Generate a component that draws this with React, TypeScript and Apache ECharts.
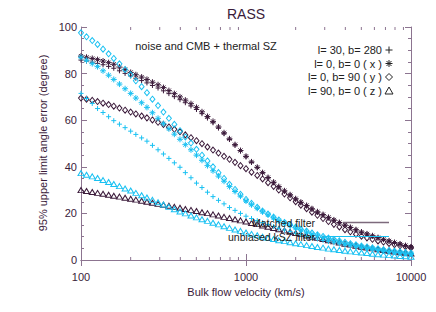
import React, { useEffect, useRef } from "react";
import * as echarts from "echarts";

// Bulk flow velocity (km/s), log-spaced sample points
const velocity = [
  100, 108, 117, 126, 136, 147, 158, 171, 185, 200, 215, 233, 251, 271, 293, 316, 341, 368, 398, 429,
  464, 501, 541, 584, 631, 681, 736, 794, 858, 926, 1000, 1080, 1170, 1260, 1360, 1470, 1580, 1710, 1850, 2000,
  2150, 2330, 2510, 2710, 2930, 3160, 3410, 3680, 3980, 4290, 4640, 5010, 5410, 5840, 6310, 6810, 7360, 7940, 8580, 9260,
  10000,
];

// Matched filter (dark)
const matchedPlus = [
  85.8, 85.4, 84.9, 84.4, 83.8, 83.1, 82.3, 81.2, 80.1, 79, 78, 77, 76, 74.9, 73.8, 72.6, 71.4, 70.1, 68.8, 67.5,
  66.1, 64.6, 62.8, 60.9, 58.9, 56.6, 54.2, 51.7, 49.3, 46.8, 44.3, 41.9, 39.6, 37.3, 35.2, 33.2, 31.3, 29.5, 27.8, 26.1,
  24.6, 23.2, 21.8, 20.5, 19.3, 18.1, 17, 15.9, 14.9, 13.9, 12.9, 11.9, 11.1, 10.3, 9.5, 8.8, 8.1, 7.4, 6.8, 6.1,
  5.5,
];
const matchedAsterisk = [
  87.5, 87, 86.5, 86, 85.4, 84.7, 84, 82.8, 81.7, 80.5, 79.5, 78.5, 77.5, 76.3, 75.2, 74, 72.7, 71.4, 70, 68.6,
  67.1, 65.5, 63.6, 61.6, 59.5, 57.1, 54.6, 52, 49.5, 47, 44.5, 42.1, 39.8, 37.5, 35.4, 33.4, 31.5, 29.7, 28, 26.3,
  24.8, 23.4, 22, 20.7, 19.5, 18.3, 17.2, 16.1, 15, 14, 13, 12, 11.2, 10.4, 9.6, 8.9, 8.2, 7.5, 6.9, 6.2,
  5.6,
];
const matchedDiamond = [
  69.5, 69, 68.5, 68, 67.3, 66.7, 66, 65.2, 64.3, 63.5, 62.7, 61.8, 61, 60.1, 59.1, 58.2, 57.1, 56.1, 55, 53.7,
  52.5, 51.2, 49.9, 48.5, 47.2, 45.9, 44.5, 43.2, 41.9, 40.5, 39.2, 37.7, 36.3, 34.8, 33.2, 31.6, 30, 28.3, 26.7, 25,
  23.5, 22, 20.5, 19.2, 17.8, 16.5, 15.3, 14.2, 13, 12.1, 11.1, 10.2, 9.5, 8.9, 8.2, 7.7, 7.1, 6.6, 6.1, 5.7,
  5.2,
];
const matchedTriangle = [
  30, 29.6, 29.2, 28.8, 28.4, 28, 27.6, 27.2, 26.7, 26.3, 25.9, 25.4, 25, 24.6, 24.1, 23.7, 23.3, 22.8, 22.4, 21.9,
  21.5, 21, 20.5, 20.1, 19.6, 19.1, 18.5, 18, 17.5, 17, 16.5, 15.9, 15.4, 14.8, 14.3, 13.7, 13.2, 12.7, 12.1, 11.6,
  11.1, 10.5, 10, 9.5, 9, 8.5, 8, 7.5, 7, 6.6, 6.1, 5.7, 5.3, 5, 4.6, 4.3, 3.9, 3.6, 3.3, 3.1,
  2.8,
];

// Unbiased kSZ filter (cyan)
const unbiasedPlus = [
  71.5, 69.3, 67.2, 65, 63.3, 61.5, 59.8, 58.3, 56.8, 55.3, 53.9, 52.4, 51, 49.2, 47.3, 45.5, 43.6, 41.7, 39.8, 37.5,
  35.3, 33, 31.1, 29.1, 27.2, 25.6, 24.1, 22.5, 21.3, 20, 18.8, 17.8, 16.9, 16, 15.2, 14.4, 13.6, 12.9, 12.2, 11.5,
  10.9, 10.2, 9.6, 9, 8.4, 7.9, 7.4, 6.9, 6.4, 6, 5.6, 5.2, 4.8, 4.4, 4.1, 3.8, 3.5, 3.2, 2.9, 2.7,
  2.4,
];
const unbiasedAsterisk = [
  87, 85.7, 84.3, 83, 81.2, 79.3, 77.5, 75.5, 73.5, 71.5, 69.5, 67.5, 65.5, 63.2, 60.8, 58.5, 56.3, 54, 51.8, 49.5,
  47.3, 45, 42.8, 40.5, 38.3, 36, 33.8, 31.5, 29.4, 27.4, 25.3, 23.7, 22.2, 20.7, 19.4, 18.1, 16.9, 15.8, 14.8, 13.8,
  12.9, 12, 11.2, 10.4, 9.7, 9, 8.4, 7.8, 7.2, 6.7, 6.2, 5.7, 5.3, 4.9, 4.5, 4.1, 3.8, 3.5, 3.2, 2.9,
  2.7,
];
const unbiasedDiamond = [
  97.5, 95.8, 94.2, 92.5, 90.5, 88.5, 86.5, 84.2, 81.8, 79.5, 76.9, 74.4, 71.8, 69, 66.3, 63.5, 60.8, 58.2, 55.5, 52.8,
  50.2, 47.5, 45, 42.5, 40, 37.5, 35, 32.5, 30.3, 28.2, 26, 24.3, 22.6, 21, 19.7, 18.4, 17.2, 16.1, 15.1, 14.1,
  13.2, 12.4, 11.6, 10.8, 10.1, 9.4, 8.8, 8.2, 7.6, 7, 6.5, 6, 5.6, 5.2, 4.8, 4.4, 4.1, 3.8, 3.5, 3.2,
  2.9,
];
const unbiasedTriangle = [
  37.3, 36.6, 35.9, 35.2, 34.3, 33.5, 32.6, 31.7, 30.7, 29.8, 28.8, 27.8, 26.8, 25.8, 24.8, 23.8, 22.8, 21.8, 20.8, 20,
  19.1, 18.3, 17.5, 16.8, 16, 15.3, 14.5, 13.8, 13.1, 12.5, 11.8, 11.2, 10.6, 10, 9.5, 9, 8.5, 8.1, 7.6, 7.2,
  6.8, 6.4, 6, 5.6, 5.3, 4.9, 4.6, 4.3, 4, 3.7, 3.5, 3.2, 3, 2.7, 2.5, 2.3, 2.1, 1.9, 1.7, 1.6,
  1.4,
];

const xMinorTicks = [200, 300, 400, 500, 600, 700, 800, 900, 2000, 3000, 4000, 5000, 6000, 7000, 8000, 9000];
const legendLabels = ["l= 30, b= 280", "l= 0, b= 0 ( x )", "l= 0, b= 90 ( y )", "l= 90, b= 0 ( z )"];
const titleText = "RASS";
const yTitle = "95% upper limit angle error (degree)";
const xTitle = "Bulk flow velocity (km/s)";
const noteText = "noise and CMB + thermal SZ";
const filterLabels = ["Matched filter", "unbiased kSZ filter"];

const DARK = "#3b1a3a";
const CYAN = "#19c1f2";
const AXIS = "#8c7490";
const TEXT = "#3a1b3a";
const FONT = "'Liberation Sans', Arial, Helvetica, sans-serif";

const PLUS = "path://M5,0L5,10M0,5L10,5";
const ASTER = "path://M5,0L5,10M0,5L10,5M1.6,1.6L8.4,8.4M1.6,8.4L8.4,1.6";

function pts(ys: number[]) {
  return velocity.map((v, i) => [v, ys[i]]);
}

function scatter(name: string, ys: number[], color: string, symbol: string, size: number | number[], hollow: boolean) {
  return {
    name,
    type: "scatter",
    data: pts(ys),
    symbol,
    symbolSize: size,
    itemStyle: {
      color: hollow ? "rgba(0,0,0,0)" : color,
      borderColor: color,
      borderWidth: 1,
      opacity: 1,
    },
    emphasis: { disabled: true },
    silent: true,
  };
}

export default function App() {
  const ref = useRef<HTMLDivElement>(null);
  useEffect(() => {
    if (!ref.current) return;
    const chart = echarts.init(ref.current, undefined, { renderer: "svg" });
    const lx = 389;
    const rows = [50, 63.5, 77, 90.5];
    const option: any = {
      animation: false,
      backgroundColor: "#ffffff",
      textStyle: { fontFamily: FONT },
      grid: { left: 81, right: 25, top: 27, bottom: 52 },
      xAxis: [
        {
          type: "log",
          logBase: 10,
          min: 100,
          max: 10000,
          splitNumber: 2,
          position: "bottom",
          name: xTitle,
          nameLocation: "middle",
          nameGap: 26,
          nameTextStyle: { color: TEXT, fontSize: 11, fontFamily: FONT },
          axisLine: { show: true, lineStyle: { color: AXIS, width: 1 } },
          axisTick: { show: true, inside: true, length: 6, lineStyle: { color: AXIS } },
          minorTick: { show: false },
          splitLine: { show: false },
          axisLabel: {
            color: TEXT,
            fontSize: 11,
            fontFamily: FONT,
            margin: 11,
            formatter: (v: number) => String(Math.round(v)),
          },
        },
        {
          type: "log",
          logBase: 10,
          min: 100,
          max: 10000,
          splitNumber: 2,
          position: "top",
          axisLine: { show: true, lineStyle: { color: AXIS, width: 1 } },
          axisTick: { show: true, inside: true, length: 6, lineStyle: { color: AXIS } },
          axisLabel: { show: false },
          splitLine: { show: false },
        },
      ],
      yAxis: [
        {
          type: "value",
          min: 0,
          max: 100,
          interval: 20,
          position: "left",
          axisLine: { show: true, lineStyle: { color: AXIS, width: 1 } },
          axisTick: { show: true, inside: true, length: 6, lineStyle: { color: AXIS } },
          minorTick: { show: true, splitNumber: 4, length: 3, lineStyle: { color: AXIS } },
          splitLine: { show: false },
          axisLabel: { color: TEXT, fontSize: 11, fontFamily: FONT, margin: 4 },
        },
        {
          type: "value",
          min: 0,
          max: 100,
          interval: 20,
          position: "right",
          axisLine: { show: true, lineStyle: { color: AXIS, width: 1 } },
          axisTick: { show: true, inside: true, length: 6, lineStyle: { color: AXIS } },
          minorTick: { show: true, splitNumber: 4, length: 3, lineStyle: { color: AXIS } },
          splitLine: { show: false },
          axisLabel: { show: false },
        },
      ],
      series: [
        {
          type: "custom",
          name: "minor ticks",
          xAxisIndex: 0,
          yAxisIndex: 0,
          silent: true,
          data: xMinorTicks.map((v) => [v, 0]),
          encode: { x: 0, y: 1 },
          renderItem: (_p: any, api: any) => {
            const v = api.value(0);
            const b = api.coord([v, 0]);
            const t = api.coord([v, 100]);
            return {
              type: "group",
              children: [
                { type: "line", shape: { x1: b[0], y1: b[1], x2: b[0], y2: b[1] - 3 }, style: { stroke: AXIS, lineWidth: 1 } },
                { type: "line", shape: { x1: t[0], y1: t[1], x2: t[0], y2: t[1] + 3 }, style: { stroke: AXIS, lineWidth: 1 } },
              ],
            };
          },
        },
        scatter("matched l=30,b=280", matchedPlus, DARK, PLUS, 5, false),
        scatter("matched x", matchedAsterisk, DARK, ASTER, 6, false),
        scatter("matched y", matchedDiamond, DARK, "diamond", [5, 6], true),
        scatter("matched z", matchedTriangle, DARK, "triangle", [6, 5], true),
        scatter("unbiased l=30,b=280", unbiasedPlus, CYAN, PLUS, 5, false),
        scatter("unbiased x", unbiasedAsterisk, CYAN, ASTER, 6, false),
        scatter("unbiased y", unbiasedDiamond, CYAN, "diamond", [5, 6], true),
        scatter("unbiased z", unbiasedTriangle, CYAN, "triangle", [6, 5], true),
      ],
      graphic: [
        {
          type: "text",
          x: 246,
          y: 14,
          style: { text: titleText, fill: TEXT, font: `14px ${FONT}`, textAlign: "center", textVerticalAlign: "middle" },
        },
        {
          type: "text",
          x: 43,
          y: 143,
          rotation: Math.PI / 2,
          style: { text: yTitle, fill: TEXT, font: `11px ${FONT}`, textAlign: "center", textVerticalAlign: "middle" },
        },
        {
          type: "text",
          x: 206,
          y: 45.5,
          style: { text: noteText, fill: "#222", font: `11px ${FONT}`, textAlign: "center", textVerticalAlign: "middle" },
        },
        ...legendLabels.map((t, i) => ({
          type: "text",
          x: 382,
          y: rows[i],
          style: { text: t, fill: "#222", font: `11px ${FONT}`, textAlign: "right", textVerticalAlign: "middle" },
        })),
        { type: "line", shape: { x1: lx - 3.5, y1: rows[0], x2: lx + 3.5, y2: rows[0] }, style: { stroke: "#222", lineWidth: 1 } },
        { type: "line", shape: { x1: lx, y1: rows[0] - 3.5, x2: lx, y2: rows[0] + 3.5 }, style: { stroke: "#222", lineWidth: 1 } },
        { type: "line", shape: { x1: lx - 3.5, y1: rows[1], x2: lx + 3.5, y2: rows[1] }, style: { stroke: "#222", lineWidth: 1 } },
        { type: "line", shape: { x1: lx, y1: rows[1] - 3.5, x2: lx, y2: rows[1] + 3.5 }, style: { stroke: "#222", lineWidth: 1 } },
        { type: "line", shape: { x1: lx - 2.5, y1: rows[1] - 2.5, x2: lx + 2.5, y2: rows[1] + 2.5 }, style: { stroke: "#222", lineWidth: 1 } },
        { type: "line", shape: { x1: lx - 2.5, y1: rows[1] + 2.5, x2: lx + 2.5, y2: rows[1] - 2.5 }, style: { stroke: "#222", lineWidth: 1 } },
        {
          type: "polygon",
          shape: { points: [[lx, rows[2] - 3.5], [lx + 3.5, rows[2]], [lx, rows[2] + 3.5], [lx - 3.5, rows[2]]] },
          style: { fill: "none", stroke: "#222", lineWidth: 1 },
        },
        {
          type: "polygon",
          shape: { points: [[lx - 4, rows[3] + 3.5], [lx, rows[3] - 3.5], [lx + 4, rows[3] + 3.5]] },
          style: { fill: "none", stroke: "#222", lineWidth: 1 },
        },
        {
          type: "text",
          x: 315,
          y: 222.5,
          z: 100,
          style: { text: filterLabels[0], fill: "#1a1a1a", font: `10.5px ${FONT}`, textAlign: "right", textVerticalAlign: "middle" },
        },
        { type: "line", z: 100, shape: { x1: 343, y1: 222.5, x2: 389, y2: 222.5 }, style: { stroke: "#7d6a7c", lineWidth: 1.5 } },
        {
          type: "text",
          x: 315,
          y: 236.5,
          z: 100,
          style: { text: filterLabels[1], fill: "#1a1a1a", font: `10.5px ${FONT}`, textAlign: "right", textVerticalAlign: "middle" },
        },
        { type: "line", z: 100, shape: { x1: 324, y1: 236.5, x2: 389, y2: 236.5 }, style: { stroke: CYAN, lineWidth: 1.2 } },
      ],
    };
    chart.setOption(option);
    return () => chart.dispose();
  }, []);
  return (
    <div
      ref={ref}
      style={{ position: "fixed", left: 0, top: 0, width: 436, height: 312, background: "#fff" }}
    />
  );
}
